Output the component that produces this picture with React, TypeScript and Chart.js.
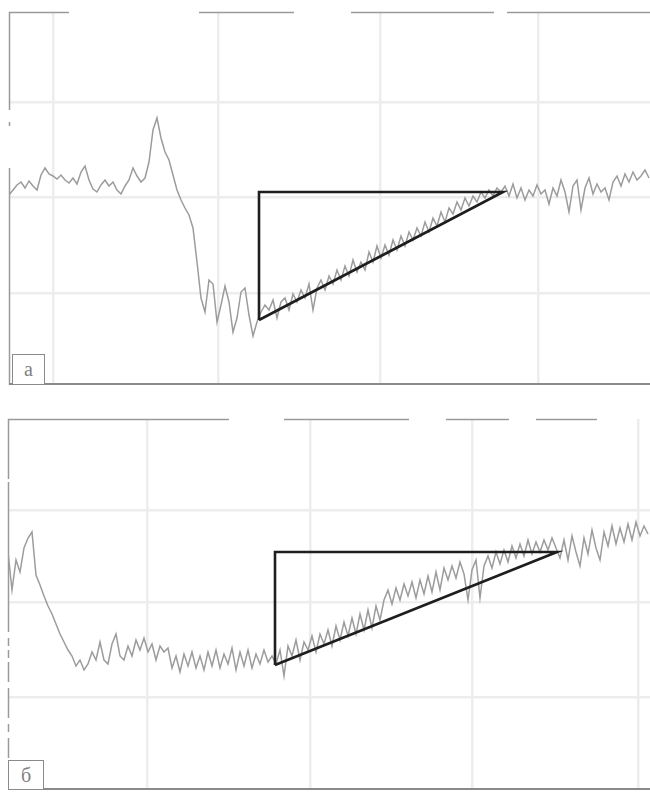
import React, { useEffect, useRef } from "react";
import { Chart, registerables } from "chart.js";

Chart.register(...registerables);

// Panel "а": signal samples (arbitrary units, 0 = baseline)
const traceA: number[] = [
  2, 7, 12, 15, 9, 16, 11, 7, 22, 29, 23, 21, 18, 22, 17, 14, 19, 13, 25, 31,
  17, 8, 5, 12, 17, 11, 15, 7, 3, 11, 17, 29, 21, 15, 19, 35, 67, 79, 59, 45,
  37, 22, 7, -3, -11, -18, -31, -65, -101, -115, -83, -87, -125, -108, -89, -105, -135, -121, -95, -91,
  -118, -139, -125, -115, -108, -113, -103, -121, -105, -101, -113, -97, -105, -93, -101, -87, -113, -91, -83, -93,
  -79, -87, -73, -83, -69, -79, -63, -75, -65, -73, -55, -65, -49, -61, -48, -58, -43, -53, -39, -49,
  -35, -43, -31, -39, -25, -35, -21, -29, -15, -25, -11, -17, -5, -13, -1, -9, 1, -5, 5, -1,
  7, 1, 9, 5, 11, 1, 13, -1, 9, -3, 7, 1, 12, 3, 7, -7, 9, 1, 17, 5,
  -15, 11, 17, -13, 9, 19, 3, 13, 5, 9, -3, 15, 21, 11, 23, 15, 25, 17, 21, 27,
  19,
];
// Triangle drawn over panel "а" (sample index, value)
const triangleAx: number[] = [62.5, 62.5, 123.5, 62.5];
const triangleAy: number[] = [-123, 5, 5, -123];
const gridXA: number[] = [11, 52.25, 92.75, 132.25];
const gridYA: number[] = [-96, 0, 95];

// Panel "б"
const traceB: number[] = [
  50, 12, 42, 30, 54, 64, 70, 27, 17, 6, -4, -12, -22, -32, -40, -48, -54, -64, -58, -68,
  -62, -50, -58, -40, -58, -62, -42, -32, -54, -58, -44, -54, -38, -48, -36, -50, -42, -58, -44, -50,
  -46, -66, -54, -70, -52, -64, -50, -66, -54, -68, -50, -64, -48, -66, -52, -62, -46, -68, -50, -64,
  -48, -66, -52, -62, -48, -60, -54, -62, -48, -74, -44, -54, -38, -58, -40, -48, -34, -50, -32, -42,
  -28, -44, -24, -38, -20, -34, -16, -32, -12, -28, -8, -26, -4, -18, 2, 12, -2, 14, 2, 18,
  6, 20, 4, 22, 8, 26, 10, 30, 12, 34, 22, 36, 24, 40, 28, 2, 32, 42, 4, 36,
  46, 34, 50, 38, 52, 40, 56, 44, 58, 46, 62, 48, 60, 50, 62, 52, 64, 54, 44, 62,
  42, 66, 50, 36, 64, 48, 72, 54, 42, 70, 56, 76, 58, 74, 60, 78, 62, 80, 66, 76,
  68,
];
const triangleBx: number[] = [66.75, 66.75, 137.25, 66.75];
const triangleBy: number[] = [-63, 50, 50, -63];
const gridXB: number[] = [34.75, 75.5, 116, 157.5];
const gridYB: number[] = [92, 0, -95];

type PanelProps = {
  trace: number[];
  triX: number[];
  triY: number[];
  gridX: number[];
  gridY: number[];
  yMin: number;
  yMax: number;
  xMax: number;
  padding: { left: number; top: number; right: number; bottom: number };
  top: number;
  height: number;
  label: string;
  labelBox: { left: number; top: number; width: number; height: number };
  topDash: number[];
  leftDash: number[];
};

const framePlugin = (topDash: number[], leftDash: number[]) => ({
  id: "frame",
  beforeDatasetsDraw(chart: any) {
    const { ctx, chartArea } = chart;
    ctx.save();
    ctx.strokeStyle = "#9a9a9a";
    ctx.lineWidth = 1.5;
    ctx.setLineDash(topDash);
    ctx.beginPath();
    ctx.moveTo(chartArea.left, chartArea.top + 0.5);
    ctx.lineTo(chartArea.right, chartArea.top + 0.5);
    ctx.stroke();
    ctx.setLineDash(leftDash);
    ctx.beginPath();
    ctx.moveTo(chartArea.left + 0.5, chartArea.top);
    ctx.lineTo(chartArea.left + 0.5, chartArea.bottom);
    ctx.stroke();
    ctx.setLineDash([]);
    ctx.strokeStyle = "#8a8a8a";
    ctx.lineWidth = 2;
    ctx.beginPath();
    ctx.moveTo(chartArea.left, chartArea.bottom - 1);
    ctx.lineTo(chartArea.right, chartArea.bottom - 1);
    ctx.stroke();
    ctx.restore();
  },
  beforeDatasetDraw(chart: any, args: any) {
    if (args.index === 0) {
      chart.ctx.save();
      chart.ctx.filter = "blur(0.6px)";
    }
  },
  afterDatasetDraw(chart: any, args: any) {
    if (args.index === 0) {
      chart.ctx.restore();
    }
  },
});

function Panel(p: PanelProps) {
  const ref = useRef<HTMLCanvasElement>(null);
  useEffect(() => {
    if (!ref.current) return;
    const chart = new Chart(ref.current, {
      type: "line",
      data: {
        datasets: [
          {
            data: p.trace.map((y, i) => ({ x: i, y })),
            borderColor: "#9c9c9c",
            borderWidth: 1.5,
            pointRadius: 0,
            tension: 0,
            order: 2,
          },
          {
            data: p.triX.map((x, i) => ({ x, y: p.triY[i] })),
            borderColor: "#1e1e1e",
            borderWidth: 2.6,
            pointRadius: 0,
            tension: 0,
            order: 1,
          },
        ],
      },
      options: {
        responsive: false,
        animation: false,
        events: [],
        layout: { padding: p.padding },
        plugins: {
          legend: { display: false },
          tooltip: { enabled: false },
        },
        scales: {
          x: {
            type: "linear",
            min: 0,
            max: p.xMax,
            ticks: { display: false },
            border: { display: false },
            grid: { color: "#ededed", lineWidth: 2.5, drawTicks: false },
            afterBuildTicks: (axis: any) => {
              axis.ticks = p.gridX.map((v) => ({ value: v }));
            },
          },
          y: {
            type: "linear",
            min: p.yMin,
            max: p.yMax,
            ticks: { display: false },
            border: { display: false },
            grid: { color: "#ededed", lineWidth: 2.5, drawTicks: false },
            afterBuildTicks: (axis: any) => {
              axis.ticks = p.gridY.map((v) => ({ value: v }));
            },
          },
        },
      } as any,
      plugins: [framePlugin(p.topDash, p.leftDash)],
    });
    return () => chart.destroy();
  }, []);
  return (
    <div style={{ position: "absolute", left: 0, top: p.top, width: 650, height: p.height }}>
      <canvas ref={ref} width={650} height={p.height} style={{ display: "block" }} />
      <div
        style={{
          position: "absolute",
          left: p.labelBox.left,
          top: p.labelBox.top,
          width: p.labelBox.width,
          height: p.labelBox.height,
          border: "1.5px solid #8a8a8a",
          boxSizing: "border-box",
          display: "flex",
          alignItems: "center",
          justifyContent: "center",
          fontFamily: "'Liberation Serif', 'DejaVu Serif', serif",
          fontSize: 20,
          color: "#808080",
          background: "#fff",
        }}
      >
        {p.label}
      </div>
    </div>
  );
}

export default function App() {
  return (
    <div style={{ position: "absolute", left: 0, top: 0, width: 650, height: 792, background: "#fff" }}>
      <Panel
        trace={traceA}
        triX={triangleAx}
        triY={triangleAy}
        gridX={gridXA}
        gridY={gridYA}
        yMin={-188}
        yMax={185}
        xMax={160.25}
        padding={{ left: 9, top: 12, right: 0, bottom: 7 }}
        top={0}
        height={392}
        label="а"
        labelBox={{ left: 12, top: 354, width: 33, height: 31 }}
        topDash={[60, 130, 95, 57, 143, 13, 200]}
        leftDash={[98, 12, 4, 42, 240]}
      />
      <Panel
        trace={traceB}
        triX={triangleBx}
        triY={triangleBy}
        gridX={gridXB}
        gridY={gridYB}
        yMin={-188}
        yMax={183}
        xMax={160.5}
        padding={{ left: 8, top: 19, right: 0, bottom: 2 }}
        top={400}
        height={392}
        label="б"
        labelBox={{ left: 8, top: 360, width: 36, height: 30 }}
        topDash={[221, 55, 125, 37, 63, 27, 61, 60]}
        leftDash={[60, 3, 150, 6, 8, 4, 8, 4, 20, 6, 30, 6, 8, 6, 20, 100]}
      />
    </div>
  );
}
